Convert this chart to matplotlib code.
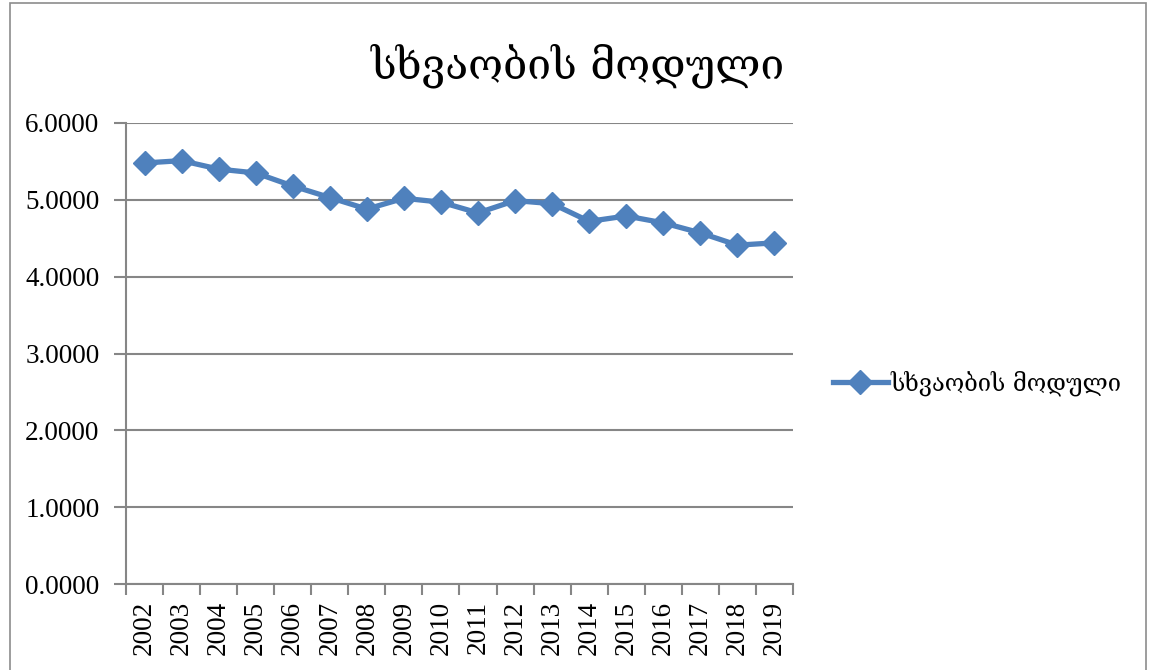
import matplotlib.pyplot as plt
from matplotlib.patches import Rectangle

years = ['2002', '2003', '2004', '2005', '2006', '2007', '2008', '2009', '2010',
         '2011', '2012', '2013', '2014', '2015', '2016', '2017', '2018', '2019']
values = [5.48, 5.51, 5.40, 5.35, 5.18, 5.03, 4.88, 5.02, 4.97,
          4.83, 4.99, 4.95, 4.72, 4.79, 4.70, 4.57, 4.41, 4.44]
y_ticks = [0, 1, 2, 3, 4, 5, 6]

title = 'სხვაობის მოდული'
series_name = 'სხვაობის მოდული'
line_color = '#4F81BD'
grid_color = '#868686'

W, H = 1151, 670
fig = plt.figure(figsize=(W / 100, H / 100), dpi=100)

# cadre du graphique
fig.patches.append(Rectangle((10 / W, -0.05), 1136 / W, 1.05 - 3 / H,
                             transform=fig.transFigure, fill=False,
                             edgecolor='#8c8c8c', linewidth=1.2))

ax = fig.add_axes([126 / W, 1 - 584 / H, (793 - 126) / W, (584 - 123) / H])

x = list(range(len(years)))
ax.plot(x, values, color=line_color, linewidth=3.8, marker='D',
        markersize=12, label=series_name, zorder=3)

ax.set_xlim(-0.5, len(years) - 0.5)
ax.set_ylim(0, 6)
ax.set_yticks(y_ticks)
ax.set_yticklabels([f'{v:.4f}' for v in y_ticks], fontsize=19.5,
                   family='Liberation Serif')
ax.set_xticks(x)
ax.set_xticklabels(years, rotation=90, fontsize=19.5, family='Liberation Serif')
ax.tick_params(axis='x', length=0, pad=12)
ax.set_xticks([i - 0.5 for i in range(len(years) + 1)], minor=True)
ax.tick_params(axis='x', which='minor', length=8, color=grid_color, width=1.5)
ax.tick_params(axis='y', length=9, color=grid_color, width=1.5, pad=10)

ax.grid(axis='y', color=grid_color, linewidth=1.5)
ax.set_axisbelow(True)
for side in ['top', 'right']:
    ax.spines[side].set_visible(False)
for side in ['left', 'bottom']:
    ax.spines[side].set_color(grid_color)
    ax.spines[side].set_linewidth(1.5)

fig.text(578 / W, 1 - 66 / H, title, ha='center', va='center',
         fontsize=30.5, family='DejaVu Serif')

leg = fig.legend(loc='center left', bbox_to_anchor=(812 / W, 1 - 383 / H),
                 frameon=False, handlelength=2.3,
                 handletextpad=0.1, prop={'family': 'DejaVu Serif', 'size': 17})

fig.savefig('out.png', dpi=100)
